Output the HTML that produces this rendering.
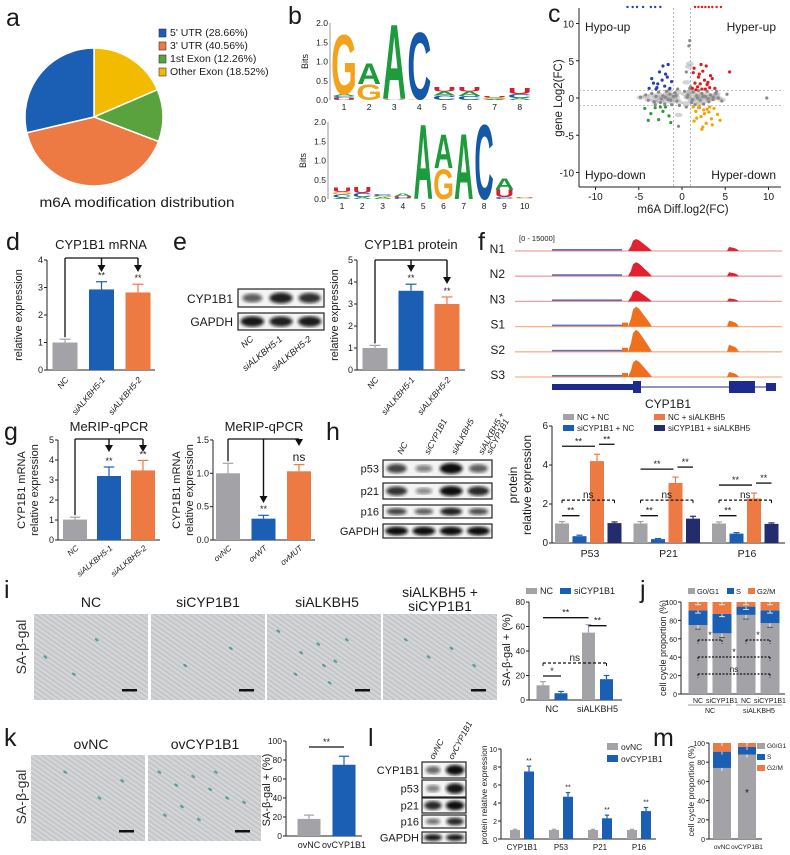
<!DOCTYPE html>
<html><head><meta charset="utf-8"><style>
html,body{margin:0;padding:0;background:#fff;}
svg{display:block;font-family:"Liberation Sans",sans-serif;}
</style></head><body>
<svg id="fig" width="790" height="855" viewBox="0 0 790 855" xmlns="http://www.w3.org/2000/svg">
<defs>
<pattern id="cells" patternUnits="userSpaceOnUse" width="4" height="4" patternTransform="rotate(35)">
<rect width="4" height="4" fill="#c6c8cd"/>
<line x1="0" y1="0.8" x2="4" y2="0.8" stroke="#dcdde0" stroke-width="0.9"/>
<line x1="0" y1="2.8" x2="4" y2="2.8" stroke="#aeb1b8" stroke-width="0.5"/>
</pattern>
<filter id="blur1"><feGaussianBlur stdDeviation="1.6"/></filter>
</defs>
<rect width="790" height="855" fill="#fff"/>
</svg>
<script>
// ---------------- DATA ----------------
const pieLabels=["5' UTR (28.66%)","3' UTR (40.56%)","1st Exon (12.26%)","Other Exon (18.52%)"];
const pieValues=[28.66,40.56,12.26,18.52];
const logoTop=[[["U",.05],["C",.05],["A",.05],["G",1.6]],[["G",.42],["A",.55]],[["U",.02],["A",2.0]],[["G",.02],["C",1.78]],[["C",.12],["A",.1],["U",.12]],[["C",.1],["A",.12],["U",.12]],[["A",.03],["G",.03],["U",.03]],[["A",.05],["C",.1],["U",.15]]];
const logoBot=[[["A",.04],["C",.08],["G",.06],["U",.12]],[["A",.05],["C",.1],["U",.15]],[["A",.05],["G",.03],["C",.05]],[["C",.03],["U",.04],["A",.08]],[["A",2.0]],[["G",.8],["A",.9]],[["A",1.75]],[["C",2.0]],[["C",.05],["U",.2],["A",.3]],[["A",.02],["G",.02],["U",.02]]];
const grayX=[-4.8,-4.2,-3.9,-3.5,-3.2,-3.0,-2.7,-2.5,-2.2,-2.0,-1.8,-1.6,-1.4,-1.2,-1.0,-0.8,-0.6,-0.5,-0.3,0.3,0.5,0.7,0.9,1.1,1.3,1.5,1.7,1.9,2.1,2.3,2.5,2.7,2.9,3.1,3.3,3.6,3.9,4.2,4.6,5.2,-2.4,-1.9,-1.3,-0.7,0.6,1.2,1.8,2.4,3.0,3.6,-3.1,-1.5,1.0,2.0,4.0,9.8,0.8,0.5,-0.4,0.9];
const grayY=[0.1,0.4,-0.3,0.6,-0.5,0.2,0.8,-0.6,0.3,-0.8,0.9,-0.2,0.5,-0.9,0.2,0.7,-0.4,1.2,-1.0,0.9,-1.2,0.4,1.3,-0.6,0.8,-0.9,0.3,1.0,-0.3,0.6,-0.8,0.2,0.9,-0.5,0.4,-0.2,0.6,0.0,-0.4,0.5,-0.1,0.1,-0.3,0.3,0.1,-0.2,0.0,0.2,-0.1,0.1,-0.9,1.1,1.5,-1.3,0.9,0.0,7.0,3.5,-3.8,7.7];
const redX=[1.2,1.5,1.8,2.0,2.3,2.6,2.9,3.2,3.5,3.8,1.4,1.9,2.4,2.8,3.3,1.6,2.1,2.7,3.0,1.3,5.5,2.2];
const redY=[1.3,2.0,1.5,3.2,1.2,2.4,1.8,1.4,2.6,1.3,4.0,2.8,3.6,4.3,3.0,1.1,1.9,1.2,2.1,3.4,3.5,4.5];
const blueX=[-3.8,-3.3,-2.9,-2.6,-2.3,-2.0,-1.7,-1.4,-1.2,-3.0,-2.2,-1.6,-2.8,-1.9,-3.5];
const blueY=[1.3,2.0,1.4,3.5,2.4,1.6,2.8,1.3,2.2,1.2,4.3,4.5,1.9,3.2,2.6];
const greenX=[-4.3,-3.6,-3.1,-2.7,-2.2,-1.9,-1.5,-1.3,-2.5,-3.9];
const greenY=[-1.4,-2.1,-1.3,-2.9,-1.8,-1.2,-2.4,-3.3,-1.2,-3.0];
const orangeX=[1.3,1.6,1.9,2.2,2.5,2.8,3.1,3.4,3.7,4.1,4.4,1.7,2.3,2.9,3.5,2.0,2.6,3.2,1.4,2.4];
const orangeY=[-1.2,-1.8,-1.3,-2.5,-1.6,-3.4,-1.9,-2.8,-1.4,-2.2,-3.0,-2.7,-4.2,-1.5,-3.6,-1.1,-2.1,-1.2,-3.1,-3.9];
const topBlueX=[-6.3,-5.7,-5.2,-4.5,-3.6,-3.1,-2.5];
const topRedX=[1.5,1.9,2.3,2.7,3.1,3.5,4.0,4.5];

const dCats=["NC","siALKBH5-1","siALKBH5-2"];
const dVals=[1.0,2.93,2.82];
const dErr=[0.12,0.28,0.3];
const eVals=[1.0,3.6,3.0];
const eErr=[0.12,0.3,0.32];
const eBlotCyp=[0.55,0.9,0.8];
const eBlotGapdh=[0.95,0.9,0.92];

const fTracks=["N1","N2","N3","S1","S2","S3"];
const fMain=[12,14,11,20,22,17];
const fSecond=[4,4,3,6,7,5];

const g1Cats=["NC","siALKBH5-1","siALKBH5-2"];
const g1Vals=[1.02,3.2,3.48];
const g1Err=[0.12,0.45,0.5];
const g2Cats=["ovNC","ovWT","ovMUT"];
const g2Vals=[1.0,0.32,1.03];
const g2Err=[0.15,0.05,0.1];

const hProteins=["p53","p21","p16","GAPDH"];
const hBlot=[[0.7,0.35,1.0,0.55],[0.8,0.3,1.0,0.85],[0.7,0.55,0.9,0.65],[1,1,1,1]];
const hCats=["P53","P21","P16"];
const hSeries=["NC + NC","NC + siALKBH5","siCYP1B1 + NC","siCYP1B1 + siALKBH5"];
const hNCNC=[1.0,1.0,1.0];
const hSiCyp=[0.35,0.2,0.48];
const hSiAlk=[4.2,3.08,2.28];
const hBoth=[1.02,1.25,0.98];
const hErrNCNC=[0.1,0.1,0.08];
const hErrSiCyp=[0.05,0.03,0.05];
const hErrSiAlk=[0.35,0.3,0.28];
const hErrBoth=[0.06,0.12,0.05];

const iGroups=["NC","siALKBH5"];
const iNC=[12,55];
const iSiCyp=[5.5,17];
const iErrNC=[3,6.5];
const iErrSiCyp=[1.5,3];

const jCats=["NC","siCYP1B1","NC","siCYP1B1"];
const jG1=[75,66,86,77];
const jS=[16,21,9,14];
const jG2=[9,13,5,9];

const kCats=["ovNC","ovCYP1B1"];
const kVals=[18,75];
const kErr=[4,9];

const lProteins=["CYP1B1","p53","p21","p16","GAPDH"];
const lBlot=[[0.5,1.0],[0.35,0.95],[0.85,1.0],[0.45,0.85],[0.95,0.95]];
const lCats=["CYP1B1","P53","P21","P16"];
const lNC=[1,1,1,1];
const lOv=[7.5,4.7,2.3,3.1];
const lErrNC=[0.08,0.08,0.08,0.08];
const lErrOv=[0.6,0.45,0.35,0.4];

const mCats=["ovNC","ovCYP1B1"];
const mG1=[74,88];
const mS=[17,8];
const mG2=[9,4];

// ---------------- HELPERS ----------------
const NS='http://www.w3.org/2000/svg';
const svg=document.getElementById('fig');
const GRAY='#a3a3a7',BLUE='#1a5fb4',ORANGE='#ee7a43',NAVY='#232d6e';
function el(tag,attrs,parent){const e=document.createElementNS(NS,tag);for(const k in attrs)e.setAttribute(k,attrs[k]);(parent||svg).appendChild(e);return e;}
function nm(e,name){


return e;}
function T(x,y,s,o){o=o||{};const e=el('text',{x:x,y:y,'font-size':o.fs||10,'text-anchor':o.a||'middle',fill:o.fill||'#1a1a1a','font-family':'Liberation Sans, sans-serif'});
if(o.rot)e.setAttribute('transform','rotate('+o.rot+' '+x+' '+y+')');
if(o.b)e.setAttribute('font-weight','bold');if(o.it)e.setAttribute('font-style','italic');
if(o.tl){e.setAttribute('textLength',o.tl);e.setAttribute('lengthAdjust','spacingAndGlyphs');}
e.textContent=s;return e;}
function L(x1,y1,x2,y2,c,w,dash){const e=el('line',{x1:x1,y1:y1,x2:x2,y2:y2,stroke:c||'#222','stroke-width':w||1});if(dash)e.setAttribute('stroke-dasharray',dash);return e;}
function R(x,y,w,h,f){return el('rect',{x:x,y:y,width:w,height:h,fill:f});}
function yAxis(x,y0,ppu,ticks,fmt,fs,name){
const a=L(x,y0,x,y0-ticks[ticks.length-1]*ppu,'#222',1);
nm(a,name+'-y-axis');
ticks.forEach(function(t){const yy=y0-t*ppu;L(x-3,yy,x,yy);const lb=T(x-4,yy+3,fmt(t),{fs:fs||9,a:'end'});
nm(lb,name+'-y-tick-label');});}
function xAxis(x1,x2,y0,name){const a=L(x1,y0,x2,y0,'#222',1);
nm(a,name+'-x-axis');}
function bar(cx,w,y0,ppu,v,e,col,name){
const r=R(cx-w/2,y0-v*ppu,w,v*ppu,col);
nm(r,name);
if(e){const top=y0-(v+e)*ppu;L(cx,y0-v*ppu,cx,top,col,1.2);L(cx-w*0.22,top,cx+w*0.22,top,col,1.2);}
return r;}
function panelLabel(x,y,s){const t=T(x,y,s,{fs:25,a:'start'});
nm(t,'panel-label-'+s);}
function arrowDown(x,y1,y2){L(x,y1,x,y2-5,'#111',1.4);el('path',{d:'M'+(x-4)+','+(y2-7)+' L'+(x+4)+','+(y2-7)+' L'+x+','+y2+' z',fill:'#111'});}
function sigLine(x1,x2,y,label,dash,fs){L(x1,y,x2,y,'#111',1.3,dash);const t=T((x1+x2)/2,y-2,label,{fs:fs||9});
nm(t,'significance-label');
if(dash){L(x1,y,x1,y+4,'#111',1,dash);L(x2,y,x2,y+4,'#111',1,dash);}}
function blot(x,y,w,h,intens,name){const g=el('g',{});
nm(g,name);
el('rect',{x:x,y:y,width:w,height:h,fill:'#f4f4f4',stroke:'#222','stroke-width':1.2},g);
const n=intens.length,step=w/n;
intens.forEach(function(v,i){el('ellipse',{cx:x+step*(i+0.5),cy:y+h/2,rx:step*0.42*(0.6+0.4*v),ry:h*0.32*(0.5+0.5*v),fill:'#111','fill-opacity':0.25+0.75*v,filter:'url(#blur1)'},g);});}
function micro(x,y,w,h,spots,name){const g=el('g',{});
nm(g,name);
el('rect',{x:x,y:y,width:w,height:h,fill:'url(#cells)'},g);
el('rect',{x:x,y:y,width:w,height:h,fill:'#e2e0d8','fill-opacity':0.2},g);
spots.forEach(function(p){el('ellipse',{cx:x+p[0]*w,cy:y+p[1]*h,rx:2.2,ry:1.2,fill:'#2f8f8a','fill-opacity':0.75,transform:'rotate(35 '+(x+p[0]*w)+' '+(y+p[1]*h)+')'},g);});
el('rect',{x:x+w-26,y:y+h-11,width:15,height:2.5,fill:'#111'},g);}

// ---------------- PANEL A ----------------
panelLabel(6,26,'a');
(function(){const cx=94,cy=117,r=69;const cols=[BLUE,ORANGE,'#5aa23d','#f3bb00'];
const order=[3,2,1,0];let ang=-90;const tot=pieValues.reduce(function(a,b){return a+b;},0);
order.forEach(function(i){const sw=pieValues[i]/tot*360;const a1=ang*Math.PI/180,a2=(ang+sw)*Math.PI/180;
const p=el('path',{d:'M'+cx+','+cy+' L'+(cx+r*Math.cos(a1))+','+(cy+r*Math.sin(a1))+' A'+r+','+r+' 0 '+(sw>180?1:0)+' 1 '+(cx+r*Math.cos(a2))+','+(cy+r*Math.sin(a2))+' z',fill:cols[i],stroke:'#fff','stroke-width':1.5});
nm(p,'pie-slice-'+i);ang+=sw;});
pieLabels.forEach(function(s,i){const sq=el('rect',{x:159,y:29+i*13,width:7,height:8,fill:cols[i],stroke:'#333','stroke-width':0.6});
nm(sq,'legend-swatch');
const t=T(170,36+i*13,s,{fs:10.5,a:'start'});
nm(t,'legend-entry');});
const tt=T(137,207,'m6A modification distribution',{fs:14,tl:195});
nm(tt,'pie-title');})();

// ---------------- PANEL B ----------------
panelLabel(288,24,'b');
(function(){const LC={A:'#1e9b3c',C:'#1558a8',G:'#f2a31b',U:'#d42030'};
function logo(data,x1,step,y0,ppb,name){
[0,0.5,1.0,1.5,2.0].forEach(function(t){const lb=T(x1-16,y0-t*ppb+3,t.toFixed(1),{fs:8.5,a:'end'});
nm(lb,name+'-y-tick');});
L(x1-14,y0,x1-14,y0-2*ppb,'#555',0.6);
const bt=T(x1-36,y0-ppb,'Bits',{fs:9,rot:-90});
nm(bt,name+'-y-title');
data.forEach(function(stack,i){let y=y0;const cx=x1+i*step;
stack.forEach(function(s){const h=s[1]*ppb;if(h<0.3){y-=h;return;}
const t=el('text',{x:0,y:0,'font-size':10,'font-weight':'bold','text-anchor':'middle',fill:LC[s[0]],'font-family':'Liberation Sans, sans-serif',transform:'translate('+cx+','+y+') scale('+(step*0.95/7.2)+','+(h/7.2)+')'});
t.textContent=s[0];
nm(t,name+'-letter');
y-=h;});
const n=T(cx,y0+10,String(i+1),{fs:8.5});
nm(n,name+'-x-tick');});}
logo(logoTop,344,25.1,100,38.5,'logo-top');
logo(logoBot,342,20.3,199,38.5,'logo-bottom');})();

// ---------------- PANEL C ----------------
panelLabel(548,22,'c');
(function(){const ox=682,oy=98,sx=8.65,sy=7.45;
function X(v){return ox+v*sx;}function Y(v){return oy-v*sy;}
L(579,8,579,187);L(579,187,781,187);
[-10,-5,0,5,10].forEach(function(t){L(X(t),187,X(t),190);const a=T(X(t),200,String(t),{fs:10});
nm(a,'c-x-tick-label');
L(576,Y(t),579,Y(t));const b=T(574,Y(t)+4,String(t),{fs:10,a:'end'});
nm(b,'c-y-tick-label');});
[-1,1].forEach(function(v){L(X(v),8,X(v),187,'#999',0.7,'2,2');L(579,Y(v),781,Y(v),'#999',0.7,'2,2');});
function pts(xs,ys,col,name){xs.forEach(function(x,i){const c=el('circle',{cx:X(x),cy:Y(ys[i]),r:1.6,fill:col});
nm(c,name);});}
grayX.forEach(function(x,i){if(Math.abs(x)<5){const c=el('ellipse',{cx:X(x),cy:Y(grayY[i]*0.6),rx:4,ry:2.2,fill:'#a0a0a0','fill-opacity':0.45});
nm(c,'gray-density');}});
pts(grayX,grayY,'#8a8a8a','gray-point');
pts(redX,redY,'#e31a1c','hyper-up-point');pts(blueX,blueY,'#2641a8','hypo-up-point');
pts(greenX,greenY,'#2e9a3a','hypo-down-point');pts(orangeX,orangeY,'#f5a300','hyper-down-point');
topBlueX.forEach(function(x){const c=el('circle',{cx:X(x),cy:7,r:1.2,fill:'#2641a8'});
nm(c,'capped-point');});
topRedX.forEach(function(x){const c=el('circle',{cx:X(x),cy:7,r:1.2,fill:'#e31a1c'});
nm(c,'capped-point');});
[[585,31,'Hypo-up','start'],[776,31,'Hyper-up','end'],[585,179,'Hypo-down','start'],[776,179,'Hyper-down','end']].forEach(function(q){const t=T(q[0],q[1],q[2],{fs:12,a:q[3]});
nm(t,'quadrant-label');});
const xt=T(683,213,'m6A Diff.log2(FC)',{fs:11.5});nm(xt,'c-x-axis-title');
const yt=T(562,98,'gene Log2(FC)',{fs:11.5,rot:-90});nm(yt,'c-y-axis-title');})();

// ---------------- PANEL D ----------------
panelLabel(6,250,'d');
(function(){const x0=47,y0=370,ppu=27.5;const ti=T(101,249,'CYP1B1 mRNA',{fs:13});nm(ti,'d-title');
yAxis(x0,y0,ppu,[0,1,2,3,4],String,9,'d');xAxis(x0,155,y0,'d');
const cols=[GRAY,BLUE,ORANGE];
function bx(i){return x0+18+i*36.5;}
dVals.forEach(function(v,i){bar(bx(i),25,y0,ppu,v,dErr[i],cols[i],'d-bar-'+dCats[i]);
const lb=T(bx(i)+4,y0+10,dCats[i],{fs:8.5,a:'end',rot:-50,it:1});nm(lb,'d-x-label');
if(i>0){const s=T(bx(i),y0-(v+dErr[i])*ppu-3,'**',{fs:9});nm(s,'d-sig');}});
const yb=258;L(bx(0),y0-(dVals[0]+dErr[0])*ppu-2,bx(0),yb,'#111',1.3);L(bx(0),yb,bx(2),yb,'#111',1.3);
arrowDown(bx(1),yb,272);arrowDown(bx(2),yb,272);
const yl=T(22,315,'relative expression',{fs:11,rot:-90});nm(yl,'d-y-title');})();

// ---------------- PANEL E ----------------
panelLabel(173,250,'e');
(function(){blot(238,289,86,18,eBlotCyp,'e-blot-cyp1b1');blot(238,313,86,17,eBlotGapdh,'e-blot-gapdh');
const a=T(233,303,'CYP1B1',{fs:12,a:'end'});nm(a,'e-blot-label');
const b=T(233,326,'GAPDH',{fs:12,a:'end'});nm(b,'e-blot-label');
dCats.forEach(function(s,i){const t=T(254+i*29,340,s,{fs:9,a:'end',rot:-40,it:1});nm(t,'e-lane-label');});
const x0=357,y0=370,ppu=22;const ti=T(411,249,'CYP1B1 protein',{fs:13});nm(ti,'e-title');
yAxis(x0,y0,ppu,[0,1,2,3,4,5],String,9,'e');xAxis(x0,465,y0,'e');
const cols=[GRAY,BLUE,ORANGE];function bx(i){return x0+18+i*36;}
eVals.forEach(function(v,i){bar(bx(i),25,y0,ppu,v,eErr[i],cols[i],'e-bar-'+dCats[i]);
const lb=T(bx(i)+4,y0+10,dCats[i],{fs:8.5,a:'end',rot:-50,it:1});nm(lb,'e-x-label');
if(i>0){const s=T(bx(i),y0-(v+eErr[i])*ppu-3,'**',{fs:9});nm(s,'e-sig');}});
const yb=260;L(bx(0),y0-(eVals[0]+eErr[0])*ppu-2,bx(0),yb,'#111',1.3);L(bx(0),yb,bx(2),yb,'#111',1.3);
arrowDown(bx(1),yb,272);arrowDown(bx(2),yb,284);
const yl=T(338,315,'relative expression',{fs:11,rot:-90});nm(yl,'e-y-title');})();

// ---------------- PANEL F ----------------
panelLabel(478,250,'f');
(function(){const sc=T(519,241,'[0 - 15000]',{fs:7.5,a:'start'});nm(sc,'f-scale-label');
fTracks.forEach(function(n,i){const by=251+i*25.2;const isN=i<3;const col=isN?'#e3202e':'#ef6f1c';
const lb=T(505,by+2,n,{fs:12,a:'end'});nm(lb,'f-track-label');
L(515,by,782,by,isN?'#f0a0a0':'#f4b48a',1.3);
const h=fMain[i],h2=fSecond[i];
const pk=el('path',{d:'M628,'+by+' L631,'+(by-h*0.4)+' L633,'+(by-h*0.85)+' L636,'+(by-h)+' L639,'+(by-h*0.9)+' L642,'+(by-h*0.7)+' L645,'+(by-h*0.5)+' L648,'+(by-h*0.3)+' L652,'+by+' z',fill:col});
nm(pk,'f-main-peak');
const pk2=el('path',{d:'M727,'+by+' L729,'+(by-h2)+' L733,'+(by-h2*0.8)+' L736,'+(by-h2*0.6)+' L739,'+by+' z',fill:col});
nm(pk2,'f-second-peak');
const sm=el('rect',{x:552,y:by-2,width:70,height:1.6,fill:'#2233a0','fill-opacity':0.7});nm(sm,'f-low-signal');
if(!isN){const s3=el('rect',{x:622,y:by-4,width:6,height:4,fill:col});nm(s3,'f-shoulder');}});
const g=el('g',{});nm(g,'f-gene-model');
el('line',{x1:552,y1:387,x2:776,y2:387,stroke:'#1d2a8f','stroke-width':1},g);
el('rect',{x:552,y:384,width:81,height:6,fill:'#1d2a8f'},g);el('rect',{x:633,y:381,width:8,height:12,fill:'#1d2a8f'},g);
el('rect',{x:729,y:381,width:26,height:12,fill:'#1d2a8f'},g);el('rect',{x:766,y:383,width:10,height:8,fill:'#1d2a8f'},g);
const gl=T(668,408,'CYP1B1',{fs:12});nm(gl,'f-gene-label');})();

// ---------------- PANEL G ----------------
panelLabel(4,440,'g');
(function(){let x0=58,y0=540,ppu=20;const t1=T(109,431,'MeRIP-qPCR',{fs:13});nm(t1,'g1-title');
yAxis(x0,y0,ppu,[0,1,2,3,4,5],String,9,'g1');xAxis(x0,160,y0,'g1');
const cols=[GRAY,BLUE,ORANGE];function bx(i){return x0+17+i*34;}
g1Vals.forEach(function(v,i){bar(bx(i),24,y0,ppu,v,g1Err[i],cols[i],'g1-bar-'+g1Cats[i]);
const lb=T(bx(i)+4,y0+9,g1Cats[i],{fs:8,a:'end',rot:-40,it:1});nm(lb,'g1-x-label');
if(i>0){const s=T(bx(i),y0-(v+g1Err[i])*ppu-3,'**',{fs:9});nm(s,'g1-sig');}});
L(bx(0),y0-(g1Vals[0]+g1Err[0])*ppu-2,bx(0),439,'#111',1.3);L(bx(0),439,bx(2),439,'#111',1.3);arrowDown(bx(1),439,452);arrowDown(bx(2),439,452);
const a=T(25,490,'CYP1B1 mRNA',{fs:11,rot:-90});nm(a,'g1-y-title');const b=T(38,490,'relative expression',{fs:11,rot:-90});nm(b,'g1-y-title');
x0=213;ppu=66.7;const t2=T(264,431,'MeRIP-qPCR',{fs:13});nm(t2,'g2-title');
yAxis(x0,y0,ppu,[0,0.5,1.0,1.5],function(t){return t.toFixed(1);},9,'g2');xAxis(x0,315,y0,'g2');
function bx2(i){return x0+15+i*35.5;}
g2Vals.forEach(function(v,i){bar(bx2(i),24,y0,ppu,v,g2Err[i],cols[i],'g2-bar-'+g2Cats[i]);
const lb=T(bx2(i)+4,y0+9,g2Cats[i],{fs:8,a:'end',rot:-40,it:1});nm(lb,'g2-x-label');});
L(bx2(0),y0-(g2Vals[0]+g2Err[0])*ppu-2,bx2(0),439,'#111',1.3);L(bx2(0),439,bx2(2),439,'#111',1.3);
arrowDown(bx2(1),439,503);arrowDown(bx2(2),439,446);
const s1=T(bx2(1),512,'**',{fs:9});nm(s1,'g2-sig');const s2=T(bx2(2),461,'ns',{fs:12});nm(s2,'g2-sig');
const c=T(180,490,'CYP1B1 mRNA',{fs:11,rot:-90});nm(c,'g2-y-title');const d=T(193,490,'relative expression',{fs:11,rot:-90});nm(d,'g2-y-title');})();

// ---------------- PANEL H ----------------
panelLabel(326,440,'h');
(function(){const rows=[[460,17],[483,16],[505,13],[524,14]];
hProteins.forEach(function(p,i){blot(383,rows[i][0],109,rows[i][1],hBlot[i],'h-blot-'+p);
const t=T(379,rows[i][0]+rows[i][1]/2+4,p,{fs:11,a:'end'});nm(t,'h-blot-label');});
const lanes=[["NC"],["siCYP1B1"],["siALKBH5"],["siALKBH5 +","siCYP1B1"]];
lanes.forEach(function(l,i){l.forEach(function(s,j){const x=402+i*27+j*8;const t=T(x,455,s,{fs:8.5,a:'start',rot:-62,it:1});nm(t,'h-lane-label');});});
const x0=552,y0=543,ppu=19.5;yAxis(x0,y0,ppu,[0,2,4,6],String,10,'h');xAxis(x0,785,y0,'h');
const series=[hNCNC,hSiCyp,hSiAlk,hBoth],errs=[hErrNCNC,hErrSiCyp,hErrSiAlk,hErrBoth],cols=[GRAY,BLUE,ORANGE,NAVY];
function gx(g){return 590+g*78.5;}function bx(g,s){return gx(g)-28+s*17.5;}
hCats.forEach(function(c,g){series.forEach(function(arr,s){bar(bx(g,s),14,y0,ppu,arr[g],errs[s][g],cols[s],'h-bar-'+c+'-'+s);});
const lb=T(gx(g),557,c,{fs:10.5});nm(lb,'h-x-label');
const top=y0-(hSiAlk[g]+hErrSiAlk[g])*ppu;
sigLine(bx(g,0),bx(g,2)-2,top-8,'**');sigLine(bx(g,2)+2,bx(g,3),top-10,'**');
sigLine(bx(g,0),bx(g,3),y0-2.2*ppu,'ns','3,2',10);sigLine(bx(g,0),bx(g,1),y0-1.4*ppu,'**');});
hSeries.forEach(function(s,i){const x=i%2?668:577,y=i<2?419:430;
const sw=R(x-14,y-5,11,6,[GRAY,ORANGE,BLUE,NAVY][i]);nm(sw,'h-legend-swatch');
const t=T(x,y+1,s,{fs:8,a:'start'});nm(t,'h-legend-entry');});
const y1=T(517,485,'protein',{fs:12,rot:-90});nm(y1,'h-y-title');const y2=T(531,485,'relative expression',{fs:12,rot:-90});nm(y2,'h-y-title');})();

// ---------------- PANEL I ----------------
panelLabel(4,598,'i');
(function(){const titles=[[91,'NC'],[208,'siCYP1B1'],[327,'siALKBH5']];
titles.forEach(function(t){const e=T(t[0],607,t[1],{fs:14});nm(e,'i-image-title');});
const e1=T(440,597,'siALKBH5 +',{fs:14});nm(e1,'i-image-title');const e2=T(440,611,'siCYP1B1',{fs:14});nm(e2,'i-image-title');
const spots=[[[0.1,0.5],[0.35,0.7],[0.55,0.3]],[[0.3,0.6],[0.7,0.4]],[[0.1,0.2],[0.3,0.45],[0.5,0.6],[0.55,0.8],[0.7,0.3],[0.45,0.35],[0.25,0.7],[0.6,0.55]],[[0.2,0.3],[0.4,0.5],[0.6,0.4],[0.8,0.6]]];
[34,151,267,383].forEach(function(x,i){micro(x,614,114,86,spots[i],'i-micrograph-'+i);});
const sa=T(26,647,'SA-β-gal',{fs:14,rot:-90,fill:'#333'});nm(sa,'i-y-label');
const x0=529,y0=700,ppu=1.225;yAxis(x0,y0,ppu,[0,20,40,60,80],String,8.5,'i');xAxis(x0,622,y0,'i');
function gx(g){return 552+g*45.5;}
iGroups.forEach(function(g,k){bar(gx(k)-9,13,y0,ppu,iNC[k],iErrNC[k],GRAY,'i-bar-NC-'+g);bar(gx(k)+9,13,y0,ppu,iSiCyp[k],iErrSiCyp[k],BLUE,'i-bar-siCYP1B1-'+g);
const t=T(gx(k),712,g,{fs:9});nm(t,'i-x-label');});
sigLine(gx(0)-9,gx(1)-9,y0-(iNC[1]+iErrNC[1])*ppu-7,'**');sigLine(gx(1)-9,gx(1)+9,y0-(iNC[1]+iErrNC[1])*ppu+1,'**');
sigLine(gx(0)-9,gx(1)+9,663,'ns','3,2',10);sigLine(gx(0)-9,gx(0)+9,676,'*');
const l1=R(526,588,11,6,GRAY);nm(l1,'i-legend-swatch');const lt1=T(540,594,'NC',{fs:9,a:'start'});nm(lt1,'i-legend-entry');
const l2=R(560,588,11,6,BLUE);nm(l2,'i-legend-swatch');const lt2=T(574,594,'siCYP1B1',{fs:9,a:'start'});nm(lt2,'i-legend-entry');
const yl=T(510,650,'SA-β-gal + (%)',{fs:11,rot:-90});nm(yl,'i-y-title');})();

// ---------------- PANEL J ----------------
panelLabel(640,598,'j');
(function(){const x0=681,y0=694,ppu=0.92;yAxis(x0,y0,ppu,[0,20,40,60,80,100],String,7,'j');xAxis(x0,785,y0,'j');
function bx(i){return 698+i*24;}
jCats.forEach(function(c,i){let y=0;[[jG1,GRAY,3],[jS,BLUE,2],[jG2,ORANGE,2]].forEach(function(s,k){const v=s[0][i];
const r=R(bx(i)-9.5,y0-(y+v)*ppu,19,v*ppu,s[1]);nm(r,'j-bar-'+c+'-'+k);
const ey=y0-(y+v)*ppu;L(bx(i),ey,bx(i),ey+s[2]*ppu*1.5,'#fff',0.8);L(bx(i)-3,ey+s[2]*ppu*1.5,bx(i)+3,ey+s[2]*ppu*1.5,s[1]==GRAY?'#444':'#fff',0.8);y+=v;});
const t=T(bx(i),703,c,{fs:7});nm(t,'j-x-label');});
L(688,705,731,705,'#333',0.6);L(736,705,782,705,'#333',0.6);
const g1=T(710,713,'NC',{fs:7});nm(g1,'j-group-label');const g2=T(759,713,'siALKBH5',{fs:7});nm(g2,'j-group-label');
sigLine(bx(0),bx(1),640,'*','2,1.5',9);sigLine(bx(2),bx(3),640,'*','2,1.5',9);sigLine(bx(0),bx(3),657,'*','2,1.5',9);sigLine(bx(0),bx(3),674,'ns','2,1.5',8);
[['G0/G1',GRAY,688],['S',BLUE,727],['G2/M',ORANGE,748]].forEach(function(q){const r=R(q[2],588,7,6,q[1]);nm(r,'j-legend-swatch');const t=T(q[2]+9,594,q[0],{fs:7.5,a:'start'});nm(t,'j-legend-entry');});
const yl=T(666,648,'cell cycle proportion (%)',{fs:9,rot:-90});nm(yl,'j-y-title');})();

// ---------------- PANEL K ----------------
panelLabel(4,746,'k');
(function(){const a=T(91,749,'ovNC',{fs:14});nm(a,'k-image-title');const b=T(205,749,'ovCYP1B1',{fs:14});nm(b,'k-image-title');
micro(31,755,114,86,[[0.3,0.2],[0.6,0.5],[0.8,0.3]],'k-micrograph-ovNC');
micro(148,755,113,86,[[0.1,0.2],[0.25,0.35],[0.4,0.25],[0.55,0.4],[0.3,0.6],[0.7,0.5],[0.15,0.7],[0.45,0.75],[0.6,0.2],[0.85,0.55]],'k-micrograph-ovCYP1B1');
const sa=T(26,797,'SA-β-gal',{fs:14,rot:-90,fill:'#333'});nm(sa,'k-y-label');
const x0=286,y0=836,ppu=0.95;yAxis(x0,y0,ppu,[0,20,40,60,80,100],String,8.5,'k');xAxis(x0,362,y0,'k');
const cols=[GRAY,BLUE];function bx(i){return 309+i*35;}
kVals.forEach(function(v,i){bar(bx(i),23,y0,ppu,v,kErr[i],cols[i],'k-bar-'+kCats[i]);const t=T(bx(i),848,kCats[i],{fs:9});nm(t,'k-x-label');});
sigLine(bx(0),bx(1),747,'**');
const yl=T(270,790,'SA-β-gal + (%)',{fs:11,rot:-90});nm(yl,'k-y-title');})();

// ---------------- PANEL L ----------------
panelLabel(368,746,'l');
(function(){const rows=[[762,16],[780,17],[798,15],[815,13],[832,11]];
lProteins.forEach(function(p,i){blot(422,rows[i][0],44,rows[i][1],lBlot[i],'l-blot-'+p);const t=T(419,rows[i][0]+rows[i][1]/2+4,p,{fs:11,a:'end'});nm(t,'l-blot-label');});
const a=T(434,760,'ovNC',{fs:8.5,a:'start',rot:-62,it:1});nm(a,'l-lane-label');const b=T(453,760,'ovCYP1B1',{fs:8.5,a:'start',rot:-62,it:1});nm(b,'l-lane-label');
const x0=501,y0=839,ppu=9;yAxis(x0,y0,ppu,[0,2,4,6,8,10],String,7,'l');xAxis(x0,656,y0,'l');
function gx(g){return 522+g*39;}
lCats.forEach(function(c,g){bar(gx(g)-7,10,y0,ppu,lNC[g],lErrNC[g],GRAY,'l-bar-ovNC-'+c);bar(gx(g)+7,10,y0,ppu,lOv[g],lErrOv[g],BLUE,'l-bar-ovCYP1B1-'+c);
const s=T(gx(g)+7,y0-(lOv[g]+lErrOv[g])*ppu-3,'**',{fs:7});nm(s,'l-sig');const t=T(gx(g),850,c,{fs:8});nm(t,'l-x-label');});
const r1=R(607,743,11,7,GRAY);nm(r1,'l-legend-swatch');const t1=T(621,750,'ovNC',{fs:8.5,a:'start'});nm(t1,'l-legend-entry');
const r2=R(607,755,11,7,BLUE);nm(r2,'l-legend-swatch');const t2=T(621,762,'ovCYP1B1',{fs:8.5,a:'start'});nm(t2,'l-legend-entry');
const yl=T(487,795,'protein relative expression',{fs:8.5,rot:-90});nm(yl,'l-y-title');})();

// ---------------- PANEL M ----------------
panelLabel(653,746,'m');
(function(){const x0=709,y0=839,ppu=0.96;yAxis(x0,y0,ppu,[0,20,40,60,80,100],String,7,'m');xAxis(x0,762,y0,'m');
function bx(i){return 722+i*25;}
mCats.forEach(function(c,i){let y=0;[[mG1,GRAY],[mS,BLUE],[mG2,ORANGE]].forEach(function(s,k){const v=s[0][i];const r=R(bx(i)-9,y0-(y+v)*ppu,18,v*ppu,s[1]);nm(r,'m-bar-'+c+'-'+k);
const ey=y0-(y+v)*ppu;L(bx(i),ey,bx(i),ey+3,'#fff',0.8);y+=v;});
const t=T(bx(i),849,c,{fs:6.5});nm(t,'m-x-label');});
const st=T(747,796,'*',{fs:10});nm(st,'m-sig');
[['G0/G1',GRAY,748],['S',BLUE,759],['G2/M',ORANGE,770]].forEach(function(q){const r=R(757,q[2]-5,8,6,q[1]);nm(r,'m-legend-swatch');const t=T(767,q[2],q[0],{fs:6.5,a:'start'});nm(t,'m-legend-entry');});
const yl=T(694,791,'cell cycle proportion (%)',{fs:8.5,rot:-90});nm(yl,'m-y-title');})();
</script>
</body></html>
